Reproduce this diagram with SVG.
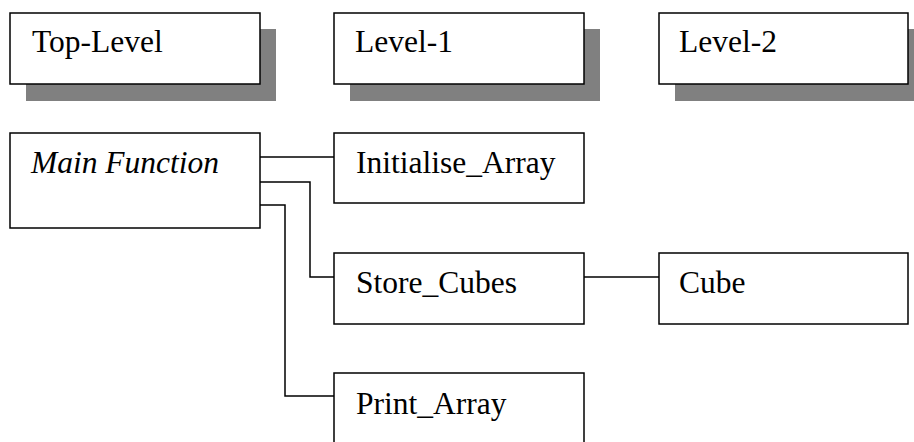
<svg xmlns="http://www.w3.org/2000/svg" width="914" height="442" viewBox="0 0 914 442">
  <style>
    .box { fill: #ffffff; stroke: #000000; stroke-width: 1.5; }
    .shadow { fill: #808080; }
    .label { font-family: "Liberation Serif", "Times New Roman", serif; font-size: 31.5px; fill: #000000; }
    .italic { font-style: italic; }
    .wire { fill: none; stroke: #000000; stroke-width: 1.5; }
  </style>
  <rect width="914" height="442" fill="#ffffff"/>

  <!-- level headings with drop shadows -->
  <g id="top-level">
    <rect class="shadow" x="26" y="29" width="250" height="72"/>
    <rect class="box" x="10" y="13" width="250" height="71"/>
    <text class="label" x="32" y="52">Top-Level</text>
  </g>
  <g id="level-1">
    <rect class="shadow" x="350" y="29" width="250" height="72"/>
    <rect class="box" x="334" y="13" width="250" height="71"/>
    <text class="label" x="355" y="52">Level-1</text>
  </g>
  <g id="level-2">
    <rect class="shadow" x="675" y="29" width="250" height="72"/>
    <rect class="box" x="659" y="13" width="249" height="71"/>
    <text class="label" x="679" y="52">Level-2</text>
  </g>

  <!-- connectors -->
  <g id="connectors">
    <path class="wire" d="M260 157 H334"/>
    <path class="wire" d="M260 182 H310 V277 H334"/>
    <path class="wire" d="M260 205 H285 V396 H334"/>
    <path class="wire" d="M584 277 H659"/>
  </g>

  <!-- modules -->
  <g id="main-function">
    <rect class="box" x="10" y="133" width="250" height="95"/>
    <text class="label italic" x="31" y="173">Main Function</text>
  </g>
  <g id="initialise-array">
    <rect class="box" x="334" y="133" width="250" height="70"/>
    <text class="label" x="356" y="173">Initialise_Array</text>
  </g>
  <g id="store-cubes">
    <rect class="box" x="334" y="253" width="250" height="71"/>
    <text class="label" x="356" y="293">Store_Cubes</text>
  </g>
  <g id="cube">
    <rect class="box" x="659" y="253" width="249" height="71"/>
    <text class="label" x="679" y="293">Cube</text>
  </g>
  <g id="print-array">
    <rect class="box" x="334" y="373" width="250" height="80"/>
    <text class="label" x="356" y="414">Print_Array</text>
  </g>
</svg>
